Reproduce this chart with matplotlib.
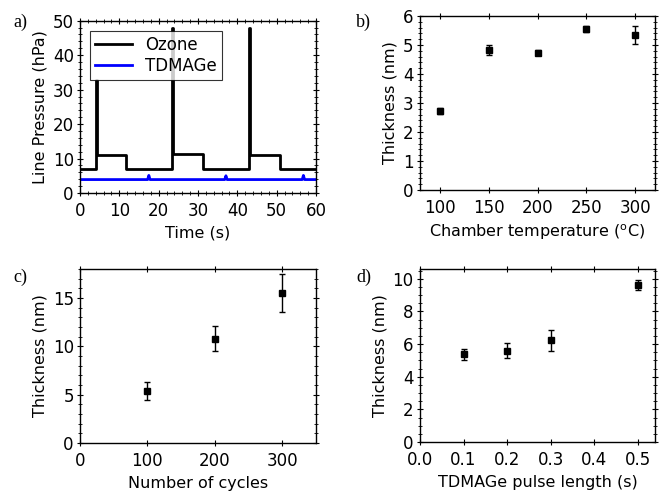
import numpy as np
import matplotlib
matplotlib.use('Agg')
import matplotlib.pyplot as plt
from matplotlib.ticker import AutoMinorLocator, MultipleLocator

plt.rcParams['font.family'] = 'DejaVu Sans'
plt.rcParams['font.size'] = 12

# a) line pressure traces
t_ozone = [0, 4.0, 4.0, 4.2, 4.2, 11.8, 11.8, 23.4, 23.4, 23.6, 23.6, 31.3, 31.3,
           43.0, 43.0, 43.2, 43.2, 50.8, 50.8, 60]
p_ozone = [7.1, 7.1, 32.8, 32.8, 11.1, 11.1, 7.1, 7.1, 48.0, 48.0, 11.2, 11.2, 7.1,
           7.1, 48.0, 48.0, 11.1, 11.1, 7.1, 7.1]
t_tdmage = [0, 17.2, 17.5, 17.8, 36.8, 37.1, 37.4, 56.5, 56.8, 57.1, 60]
p_tdmage = [3.9, 3.9, 5.1, 3.9, 3.9, 5.0, 3.9, 3.9, 5.1, 3.9, 3.9]

# b) thickness vs chamber temperature
temp = [100, 150, 200, 250, 300]
thick_temp = [2.72, 4.83, 4.74, 5.56, 5.34]
err_temp = [0.09, 0.17, 0.09, 0.1, 0.32]

# c) thickness vs number of cycles
cycles = [100, 200, 300]
thick_cyc = [5.37, 10.77, 15.5]
err_cyc = [0.92, 1.3, 1.97]

# d) thickness vs TDMAGe pulse length
pulse = [0.1, 0.2, 0.3, 0.5]
thick_pulse = [5.37, 5.6, 6.22, 9.6]
err_pulse = [0.34, 0.47, 0.64, 0.3]

fig = plt.figure(figsize=(6.64, 4.93), dpi=100)
ax_a = fig.add_axes([0.1205, 0.6085, 0.3554, 0.3495])
ax_b = fig.add_axes([0.6325, 0.6146, 0.354, 0.353])
ax_c = fig.add_axes([0.1205, 0.1014, 0.3554, 0.353])
ax_d = fig.add_axes([0.6325, 0.1034, 0.354, 0.351])


def style(ax, xminor=False):
    if xminor:
        ax.xaxis.set_minor_locator(AutoMinorLocator())
    ax.yaxis.set_minor_locator(AutoMinorLocator())
    ax.tick_params(which='both', direction='inout', top=True, right=True)
    ax.tick_params(which='major', length=5, labelsize=12, pad=2)
    ax.tick_params(which='minor', length=3)
    ax.tick_params(axis='x', pad=4)
    for s in ax.spines.values():
        s.set_linewidth(1.0)
    ax.xaxis.label.set_size(11.5)
    ax.yaxis.label.set_size(11.5)


ax_a.plot(t_ozone, p_ozone, color='black', lw=2, label='Ozone')
ax_a.plot(t_tdmage, p_tdmage, color='#0000ff', lw=2, label='TDMAGe')
ax_a.set_xlim(0, 60)
ax_a.set_ylim(0, 50)
ax_a.xaxis.set_major_locator(MultipleLocator(10))
ax_a.yaxis.set_major_locator(MultipleLocator(10))
ax_a.set_xlabel('Time (s)')
ax_a.set_ylabel('Line Pressure (hPa)')
leg = ax_a.legend(loc='upper left', fancybox=False, edgecolor='black', fontsize=12,
                  borderaxespad=0.6, handlelength=2.2, borderpad=0.3, labelspacing=0.2)
leg.get_frame().set_linewidth(0.8)
style(ax_a, xminor=True)

err_kw = dict(fmt='s', color='black', ms=4, capsize=2, elinewidth=1, capthick=1)

ax_b.errorbar(temp, thick_temp, yerr=err_temp, **err_kw)
ax_b.set_xlim(80, 320)
ax_b.set_ylim(0, 6)
ax_b.set_xticks([100, 150, 200, 250, 300])
ax_b.yaxis.set_major_locator(MultipleLocator(1))
ax_b.set_xlabel(r'Chamber temperature ($^{\mathrm{o}}$C)')
ax_b.set_ylabel('Thickness (nm)')
style(ax_b)

ax_c.errorbar(cycles, thick_cyc, yerr=err_cyc, **err_kw)
ax_c.set_xlim(0, 350)
ax_c.set_ylim(0, 18)
ax_c.set_xticks([0, 100, 200, 300])
ax_c.set_yticks([0, 5, 10, 15])
ax_c.set_xlabel('Number of cycles')
ax_c.set_ylabel('Thickness (nm)')
style(ax_c)

ax_d.errorbar(pulse, thick_pulse, yerr=err_pulse, **err_kw)
ax_d.set_xlim(0, 0.54)
ax_d.set_ylim(0, 10.6)
ax_d.set_xticks([0.0, 0.1, 0.2, 0.3, 0.4, 0.5])
ax_d.set_yticks([0, 2, 4, 6, 8, 10])
ax_d.set_xlabel('TDMAGe pulse length (s)')
ax_d.set_ylabel('Thickness (nm)')
style(ax_d)

panel_labels = [('a)', 0.02, 0.955), ('b)', 0.536, 0.955), ('c)', 0.02, 0.438), ('d)', 0.536, 0.438)]
for lbl, x, y in panel_labels:
    fig.text(x, y, lbl, family='Liberation Serif', fontsize=13, va='center')

fig.savefig('out.png', dpi=100)
